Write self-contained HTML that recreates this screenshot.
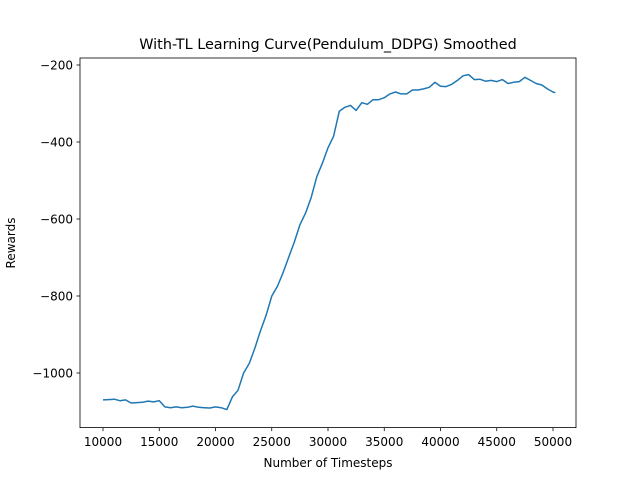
<!DOCTYPE html>
<html><head><meta charset="utf-8"><style>
body{margin:0;background:#fff;}
svg text{font-family:"DejaVu Sans","Liberation Sans",sans-serif;}
</style></head><body>
<svg id="chart" width="640" height="480" xmlns="http://www.w3.org/2000/svg">
<rect width="640" height="480" fill="#fff"/>
<text x="328" y="49" font-size="14.4" text-anchor="middle">With-TL Learning Curve(Pendulum_DDPG) Smoothed</text>
<g id="xticks"></g><g id="yticks"></g>
<path id="line" fill="none" stroke="#1f77b4" stroke-width="1.5" stroke-linejoin="round"/>
<rect x="80" y="58" width="496" height="369.6" fill="none" stroke="#000" stroke-width="0.8"/>
<text x="328" y="467" font-size="12" text-anchor="middle">Number of Timesteps</text>
<text transform="translate(15,243) rotate(-90)" font-size="12" text-anchor="middle">Rewards</text>
</svg>
<script>
const steps=[10000,10500,11000,11500,12000,12500,13000,13500,14000,14500,15000,15500,16000,16500,17000,17500,18000,18500,19000,19500,20000,20500,21000,21500,22000,22500,23000,23500,24000,24500,25000,25500,26000,26500,27000,27500,28000,28500,29000,29500,30000,30500,31000,31500,32000,32500,33000,33500,34000,34500,35000,35500,36000,36500,37000,37500,38000,38500,39000,39500,40000,40500,41000,41500,42000,42500,43000,43500,44000,44500,45000,45500,46000,46500,47000,47500,48000,48500,49000,49500,50000,50200];
const rewards=[-1070,-1069,-1068,-1072,-1070,-1078,-1077,-1076,-1073,-1075,-1072,-1088,-1090,-1088,-1090,-1089,-1086,-1089,-1090,-1091,-1088,-1090,-1095,-1062,-1045,-1000,-975,-935,-890,-850,-800,-775,-740,-700,-660,-615,-585,-545,-490,-455,-415,-385,-320,-310,-305,-318,-298,-302,-290,-290,-285,-275,-270,-275,-275,-265,-265,-262,-258,-245,-255,-256,-250,-240,-228,-225,-238,-237,-242,-240,-243,-238,-248,-245,-243,-232,-240,-248,-252,-262,-270,-272];
const xTicks=[10000,15000,20000,25000,30000,35000,40000,45000,50000];
const yTicks=[-1000,-800,-600,-400,-200];
const X=v=>103+(v-10000)*450/40000;
const Y=v=>65+(-200-v)*0.385;
const NS="http://www.w3.org/2000/svg";
const xt=document.getElementById('xticks'),yt=document.getElementById('yticks');
xTicks.forEach(t=>{
 const l=document.createElementNS(NS,'line');
 
 
 l.setAttribute('x1',X(t));l.setAttribute('x2',X(t));l.setAttribute('y1',427.6);l.setAttribute('y2',431.1);l.setAttribute('stroke','#000');l.setAttribute('stroke-width','0.8');xt.appendChild(l);
 const s=document.createElementNS(NS,'text');
 
 
 s.setAttribute('x',X(t));s.setAttribute('y',446);s.setAttribute('font-size','12');s.setAttribute('text-anchor','middle');s.textContent=t;xt.appendChild(s);
});
yTicks.forEach(t=>{
 const l=document.createElementNS(NS,'line');
 
 
 l.setAttribute('x1',76.5);l.setAttribute('x2',80);l.setAttribute('y1',Y(t));l.setAttribute('y2',Y(t));l.setAttribute('stroke','#000');l.setAttribute('stroke-width','0.8');yt.appendChild(l);
 const s=document.createElementNS(NS,'text');
 
 
 s.setAttribute('x',73);s.setAttribute('y',Y(t)+4.5);s.setAttribute('font-size','12');s.setAttribute('text-anchor','end');s.textContent='\u2212'+Math.abs(t);yt.appendChild(s);
});
document.getElementById('line').setAttribute('d',steps.map((s,i)=>(i?'L':'M')+X(s).toFixed(1)+','+Y(rewards[i]).toFixed(1)).join(''));
</script>
</body></html>
